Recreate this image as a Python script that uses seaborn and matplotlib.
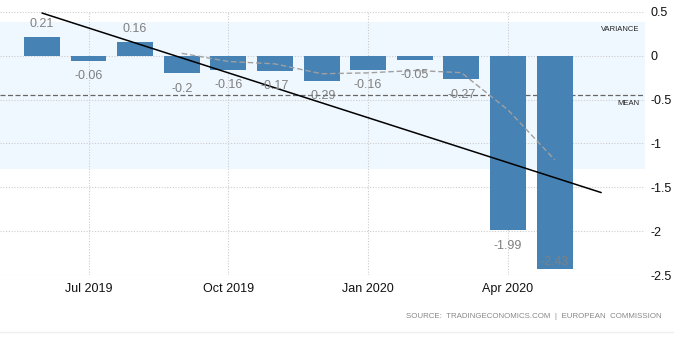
import numpy as np
import pandas as pd
import matplotlib
matplotlib.use("Agg")
import matplotlib.pyplot as plt
import seaborn as sns

months = ["Jun 2019", "Jul 2019", "Aug 2019", "Sep 2019", "Oct 2019", "Nov 2019",
          "Dec 2019", "Jan 2020", "Feb 2020", "Mar 2020", "Apr 2020", "May 2020"]
values = [0.21, -0.06, 0.16, -0.2, -0.16, -0.17, -0.29, -0.16, -0.05, -0.27, -1.99, -2.43]
value_labels = ["0.21", "-0.06", "0.16", "-0.2", "-0.16", "-0.17", "-0.29", "-0.16",
                "-0.05", "-0.27", "-1.99", "-2.43"]
tick_months = ["Jul 2019", "Oct 2019", "Jan 2020", "Apr 2020"]
y_ticks = [0.5, 0, -0.5, -1, -1.5, -2, -2.5]
y_tick_labels = ["0.5", "0", "-0.5", "-1", "-1.5", "-2", "-2.5"]

df = pd.DataFrame({"month": months, "value": values})

sns.set_style("white")
plt.rcParams["font.family"] = ["Liberation Sans", "DejaVu Sans"]

fig = plt.figure(figsize=(6.74, 3.40), dpi=100)
ax = fig.add_axes([0.0, 0.191, 0.957, 0.774])

n = len(values)
idx = np.arange(n)
arr = np.array(values)
mean = arr.mean()
std = arr.std(ddof=1)

# variance band and mean line
ax.axhspan(mean - std, mean + std, color="#F0F8FF", zorder=0, lw=0)
ax.axhline(mean, color="#666666", lw=0.9, ls=(0, (4, 2)), zorder=1)

sns.barplot(data=df, x="month", y="value", order=months, color="#4682B4",
            width=0.77, saturation=1, linewidth=0, ax=ax, zorder=2)

# 4-period moving average
ma = df["value"].rolling(4).mean()
ax.plot(idx, ma, color="#a0a0a0", lw=1.0, ls=(0, (4, 2)), zorder=3)

# linear trend
slope, intercept = np.polyfit(idx, arr, 1)
tx = np.array([0, n])
ax.plot(tx, intercept + slope * tx, color="black", lw=1.1, zorder=4)

ymin, ymax = -2.5, 0.5
for i, (v, lab) in enumerate(zip(values, value_labels)):
    if v >= 0:
        off = 9.5
    elif v - 0.2 < ymin:
        off = 5
    else:
        off = -11
    ax.annotate(lab, (i, v), xytext=(0, off), textcoords="offset points",
                ha="center", va="center", fontsize=9, color="#808080", zorder=5)

ax.text(0.992, (mean + std - ymin) / (ymax - ymin) - 0.032, "VARIANCE",
        transform=ax.transAxes, ha="right", va="center", fontsize=5.5, color="#222222")
ax.text(0.992, (mean - ymin) / (ymax - ymin) - 0.03, "MEAN",
        transform=ax.transAxes, ha="right", va="center", fontsize=5.5, color="#222222")

ax.set_xlim(-0.9, 12.94)
ax.set_ylim(ymin, ymax)
ax.yaxis.tick_right()
ax.set_yticks(y_ticks)
ax.set_yticklabels(y_tick_labels)
ax.set_xticks([months.index(m) for m in tick_months])
ax.set_xticklabels(tick_months)
ax.tick_params(axis="both", length=0, labelsize=9, colors="#111111")
ax.tick_params(axis="y", pad=4)
ax.tick_params(axis="x", pad=6)
ax.set_xlabel("")
ax.set_ylabel("")
ax.grid(True, color="#cccccc", ls=(0, (1, 1.5)), lw=0.8)
ax.set_axisbelow(True)
for s in ax.spines.values():
    s.set_visible(False)

fig.text(0.981, 0.068, "SOURCE:  TRADINGECONOMICS.COM  |  EUROPEAN  COMMISSION",
         ha="right", va="center", fontsize=5.7, color="#888888")
fig.add_artist(plt.Line2D([0, 1], [0.024, 0.024], color="#eeeeee", lw=1))

fig.savefig("out.png", dpi=100)
